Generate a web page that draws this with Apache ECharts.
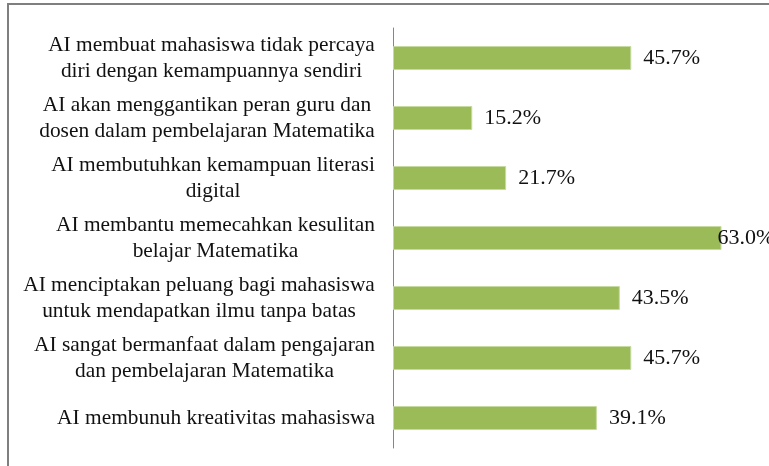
<!DOCTYPE html>
<html>
<head>
<meta charset="utf-8">
<script src="https://cdn.jsdelivr.net/npm/echarts@6/dist/echarts.min.js"></script>
<style>html,body{margin:0;padding:0;background:#fff}#c{width:769px;height:466px}</style>
</head>
<body>
<div id="c"></div>
<script>
const categories = [
  "AI membuat mahasiswa tidak percaya\ndiri dengan kemampuannya sendiri",
  "AI akan menggantikan peran guru dan\ndosen dalam pembelajaran Matematika",
  "AI membutuhkan kemampuan literasi\ndigital",
  "AI membantu memecahkan kesulitan\nbelajar Matematika",
  "AI menciptakan peluang bagi mahasiswa\nuntuk mendapatkan ilmu tanpa batas",
  "AI sangat bermanfaat dalam pengajaran\ndan pembelajaran Matematika",
  "AI membunuh kreativitas mahasiswa"
];
const values = [45.7, 15.2, 21.7, 63.0, 43.5, 45.7, 39.1];

const FONT = '"Liberation Serif", "Times New Roman", serif';
const FS = 21.4;
const VFS = 22;
const cv = document.createElement('canvas').getContext('2d');
cv.font = FS + 'px ' + FONT;
const rich = {};
categories.forEach((c, i) => {
  const w = Math.max(...c.split('\n').map(l => cv.measureText(l).width));
  rich['c' + i] = { width: Math.ceil(w), align: 'center', fontFamily: FONT, fontSize: FS, color: '#111', lineHeight: 26 };
});
const maxV = Math.max(...values);

const chart = echarts.init(document.getElementById('c'), null, { renderer: 'canvas' });
chart.setOption({
  animation: false,
  graphic: [{
    type: 'rect', shape: { x: 8, y: 4, width: 800, height: 520 },
    style: { fill: null, stroke: '#7f7f7f', lineWidth: 2 }, silent: true
  }],
  grid: { left: 393, top: 28, width: 365, height: 420 },
  xAxis: { type: 'value', min: 0, max: 70, show: false, splitLine: { show: false } },
  yAxis: {
    type: 'category', data: categories, inverse: true,
    axisLine: { lineStyle: { color: '#868686', width: 1 } },
    axisTick: { show: false },
    axisLabel: {
      margin: 18, align: 'right', lineHeight: 26,
      formatter: (v) => { const i = categories.indexOf(v); return v.split('\n').map(l => '{c' + i + '|' + l + '}').join('\n'); },
      rich: rich
    }
  },
  series: [{
    type: 'bar', barWidth: 24,
    data: values.map(v => ({
      value: v,
      label: { distance: v === maxV ? -4 : 12 }
    })),
    itemStyle: { color: '#9BBB59', borderColor: '#c5dba0', borderWidth: 1 },
    label: {
      show: true, position: 'right', fontFamily: FONT, fontSize: VFS, color: '#111',
      formatter: (p) => p.value.toFixed(1) + '%'
    }
  }]
});
</script>
</body>
</html>
